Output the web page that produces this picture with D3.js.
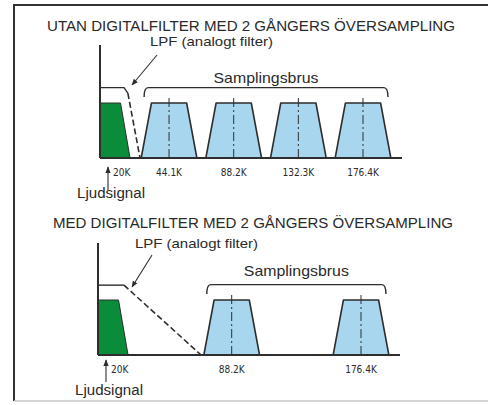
<!DOCTYPE html>
<html>
<head>
<meta charset="utf-8">
<script src="https://cdn.jsdelivr.net/npm/d3@7"></script>
<style>
  html, body { margin: 0; padding: 0; background: #fff; }
  text { font-family: "Liberation Sans", Arial, sans-serif; fill: #2a2a2a; }
  .tick { font-family: "DejaVu Sans Condensed", "Liberation Sans Narrow", "Liberation Sans", sans-serif; font-size: 10px; }
</style>
</head>
<body>
<div id="chart"></div>
<script>
/* Oversampling spectra: audio band, LPF and image bands (samplingsbrus) */

var panelTitles = [
  'UTAN DIGITALFILTER MED 2 GÅNGERS ÖVERSAMPLING',
  'MED DIGITALFILTER MED 2 GÅNGERS ÖVERSAMPLING'
];
var lpfLabel = 'LPF (analogt filter)';
var noiseLabel = 'Samplingsbrus';
var signalLabel = 'Ljudsignal';
var audioTick = '20K';

// image band centres (kHz) and their tick labels, per panel
var imageCenters = [[44.1, 88.2, 132.3, 176.4], [88.2, 176.4]];
var imageLabels = [['44.1K', '88.2K', '132.3K', '176.4K'], ['88.2K', '176.4K']];

// band shape: half widths (kHz) at top and at the base
var bandHalf = { top: 12, base: 19 };
var audioEdge = { top: 11, base: 17.5 };

// analog low pass response [kHz, level], solid part then dashed part
var lpfSolid = [
  [[-3, 1.28], [13.4, 1.28], [16, 1.18]],
  [[-3, 1.27], [14.7, 1.27]]
];
var lpfDashed = [
  [[16, 1.18], [24.3, 0]],
  [[14.7, 1.27], [67.3, 0]]
];

var freqDomain = [-3, 203];
var braceLevel = 1.28;
var hookLevel = 1.11;
var centerLevel = 1.12;

var width = 488;
var height = 405;

// layout per panel
var panels = [
  { baseY: 158, axisX: 100, axisTop: 45, titleY: 31, titleX: 251, titleW: 408,
    lpfX: 150, lpfY: 46, ptr: [157, 55, 132, 85], noiseGap: 5,
    arrowX: 108, arrowTop: 167, arrowBot: 190, signalY: 198 },
  { baseY: 355, axisX: 98, axisTop: 243, titleY: 228, titleX: 253, titleW: 400,
    lpfX: 135, lpfY: 248, ptr: [152, 255, 132, 287], noiseGap: 9,
    arrowX: 106, arrowTop: 360, arrowBot: 382, signalY: 395 }
];

var ink = '#2e2e2e';

var svg = d3.select('#chart').append('svg')
  .attr('width', width)
  .attr('height', height);

var defs = svg.append('defs');
defs.append('marker')
  .attr('id', 'head')
  .attr('viewBox', '0 0 10 10')
  .attr('refX', 9).attr('refY', 5)
  .attr('markerWidth', 6).attr('markerHeight', 6)
  .attr('orient', 'auto')
  .append('path')
  .attr('d', 'M0,1 L10,5 L0,9 z')
  .attr('fill', ink);

// frame
svg.append('path')
  .attr('d', 'M14,401 L14,5 L488,5')
  .attr('fill', 'none').attr('stroke', '#333').attr('stroke-width', 2);
svg.append('line')
  .attr('x1', 14).attr('x2', 488).attr('y1', 401).attr('y2', 401)
  .attr('stroke', '#c8c8c8').attr('stroke-width', 1.5);

function drawPanel(p, i) {
  var x = d3.scaleLinear().domain(freqDomain).range([p.axisX, p.axisX + 302]);
  var y = d3.scaleLinear().domain([0, 1]).range([p.baseY, p.baseY - 55]);
  var line = d3.line()
    .x(function(d) { return x(d[0]); })
    .y(function(d) { return y(d[1]); });

  var g = svg.append('g');

  g.append('text')
    .attr('x', p.titleX).attr('y', p.titleY)
    .attr('text-anchor', 'middle')
    .attr('font-size', 14.5)
    .attr('textLength', p.titleW)
    .attr('lengthAdjust', 'spacingAndGlyphs')
    .text(panelTitles[i]);

  // audio band (green)
  var f0 = freqDomain[0];
  g.append('path')
    .attr('d', line([[f0, 0], [f0, 1], [audioEdge.top, 1], [audioEdge.base, 0]]) + 'Z')
    .attr('fill', '#0b8c3a')
    .attr('stroke', ink).attr('stroke-width', 1);

  // image bands
  var bands = g.selectAll('.band').data(imageCenters[i]).enter()
    .append('g').attr('class', 'band');
  bands.append('path')
    .attr('d', function(c) {
      return line([[c - bandHalf.base, 0], [c - bandHalf.top, 1],
        [c + bandHalf.top, 1], [c + bandHalf.base, 0]]);
    })
    .attr('fill', '#a9d6ef')
    .attr('stroke', ink).attr('stroke-width', 1.6)
    .attr('stroke-linejoin', 'round');
  bands.append('line')
    .attr('x1', function(c) { return x(c); })
    .attr('x2', function(c) { return x(c); })
    .attr('y1', y(0)).attr('y2', y(centerLevel))
    .attr('stroke', ink).attr('stroke-width', 1)
    .attr('stroke-dasharray', '9,3,2,3');

  g.selectAll('.tick').data(imageCenters[i]).enter()
    .append('text')
    .attr('class', 'tick')
    .attr('x', function(c) { return x(c); })
    .attr('y', p.baseY + 18)
    .attr('text-anchor', 'middle')
    .text(function(c, j) { return imageLabels[i][j]; });

  // axes
  g.append('line')
    .attr('x1', p.axisX).attr('x2', p.axisX)
    .attr('y1', p.axisTop).attr('y2', p.baseY)
    .attr('stroke', ink).attr('stroke-width', 2);
  g.append('line')
    .attr('x1', p.axisX).attr('x2', x(freqDomain[1]))
    .attr('y1', p.baseY).attr('y2', p.baseY)
    .attr('stroke', ink).attr('stroke-width', 2);

  // LPF response
  g.append('path')
    .attr('d', line(lpfSolid[i]))
    .attr('fill', 'none').attr('stroke', ink).attr('stroke-width', 1.4);
  g.append('path')
    .attr('d', line(lpfDashed[i]))
    .attr('fill', 'none').attr('stroke', ink).attr('stroke-width', 1.6)
    .attr('stroke-dasharray', '6,3');

  g.append('text')
    .attr('x', p.lpfX).attr('y', p.lpfY)
    .attr('font-size', 13)
    .attr('textLength', 123)
    .attr('lengthAdjust', 'spacingAndGlyphs')
    .text(lpfLabel);
  g.append('line')
    .attr('x1', p.ptr[0]).attr('y1', p.ptr[1])
    .attr('x2', p.ptr[2]).attr('y2', p.ptr[3])
    .attr('stroke', ink).attr('stroke-width', 1.1)
    .attr('marker-end', 'url(#head)');

  // brace over image bands
  var centers = imageCenters[i];
  var bx1 = x(centers[0] - 17);
  var bx2 = x(centers[centers.length - 1] + 17);
  var by = y(braceLevel);
  var hy = y(hookLevel);
  g.append('path')
    .attr('d', 'M' + bx1 + ',' + hy + ' Q' + bx1 + ',' + by + ' ' + (bx1 + 4) + ',' + by +
      ' L' + (bx2 - 4) + ',' + by + ' Q' + bx2 + ',' + by + ' ' + bx2 + ',' + hy)
    .attr('fill', 'none').attr('stroke', ink).attr('stroke-width', 1.4);
  g.append('text')
    .attr('x', (bx1 + bx2) / 2).attr('y', by - p.noiseGap)
    .attr('text-anchor', 'middle')
    .attr('font-size', 14.5)
    .attr('textLength', 105)
    .attr('lengthAdjust', 'spacingAndGlyphs')
    .text(noiseLabel);

  // audio signal arrow
  g.append('line')
    .attr('x1', p.arrowX).attr('x2', p.arrowX)
    .attr('y1', p.arrowBot).attr('y2', p.arrowTop)
    .attr('stroke', ink).attr('stroke-width', 1.1)
    .attr('marker-end', 'url(#head)');
  g.append('text')
    .attr('class', 'tick')
    .attr('x', p.arrowX + 5).attr('y', p.baseY + 18)
    .text(audioTick);
  g.append('text')
    .attr('x', p.arrowX - 31).attr('y', p.signalY)
    .attr('font-size', 14)
    .attr('textLength', 68)
    .attr('lengthAdjust', 'spacingAndGlyphs')
    .text(signalLabel);
}

panels.forEach(drawPanel);
</script>
</body>
</html>
